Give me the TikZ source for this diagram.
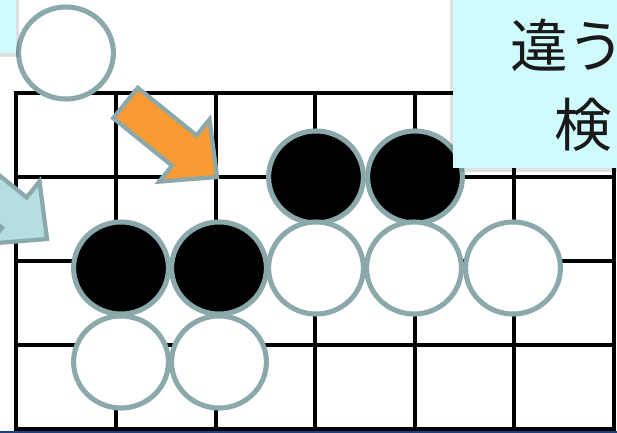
\documentclass[tikz,border=0pt]{standalone}
\usepackage{fontspec}
\newfontfamily\cjk{Noto Sans CJK JP}
\usetikzlibrary{shapes.geometric}
\definecolor{cedge}{HTML}{8BA8AA}
\definecolor{corange}{HTML}{F99A33}
\definecolor{caqua}{HTML}{B4DEE1}
\definecolor{cpanel}{HTML}{D0FBFD}
\definecolor{cnavy}{HTML}{1F3F7F}
\tikzset{
  every picture/.style={x=0.025cm, y=-0.025cm},
  gridline/.style={line width=2.2pt, black, line cap=rect},
  stone/.style={ellipse, draw=cedge, line width=3.6pt, fill=#1, minimum width=2.37cm, minimum height=2.3cm, inner sep=0pt},
  stone/.default=white,
  panel/.style={fill=cpanel, inner sep=0pt, anchor=north west},
  shade/.style={fill=black, opacity=0.12},
  hint/.style={font=\cjk\fontsize{41}{48}\selectfont, text=black!90, inner sep=0pt, anchor=base west},
  pics/bigarrow/.style={code={
    \filldraw[fill=#1, draw=cedge, line width=3pt, line join=miter]
      (-117.7,19.5) -- (-42,19.5) -- (-42,40) -- (0,0) -- (-42,-40) -- (-42,-19.5) -- (-117.7,-19.5) -- cycle;}},
}

\begin{document}
\begin{tikzpicture}
  \useasboundingbox (0,0) rectangle (617,433);
  \clip (0,0) rectangle (617,433);
  % board
  \foreach \gx in {16,116,216,315,415,514,614}
    \draw[gridline] (\gx,93) -- (\gx,429);
  \foreach \gy in {93,177,261,345,429}
    \draw[gridline] (16,\gy) -- (614,\gy);
  \draw[cnavy, line width=1.5pt] (0,432) -- (617,432);
  % stones
  \node[stone] (w0) at (66,53) {};
  \node[stone=black] (b1) at (316,177) {};
  \node[stone=black] (b2) at (415,177) {};
  \node[stone] (w1) at (316,268) {};
  \node[stone] (w2) at (414,268) {};
  \node[stone] (w3) at (513,268) {};
  \node[stone=black] (b3) at (121,268) {};
  \node[stone=black] (b4) at (219,268) {};
  \node[stone] (w4) at (121,362) {};
  \node[stone] (w5) at (219,362) {};
  % arrows
  \pic[rotate=-39] (oarrow) at (217,177) {bigarrow=corange};
  \pic[rotate=-39] (carrow) at (47,239) {bigarrow=caqua};
  % panels
  \fill[shade] (-5,-5) rectangle (19,57);
  \node[panel, minimum width=0.65cm, minimum height=1.45cm] (lpanel) at (-10,-5) {};
  \fill[shade] (450,-6) rectangle (622,172);
  \node[panel, minimum width=4.3cm, minimum height=4.35cm] (rpanel) at (453,-6) {};
  \node[hint] (t1) at (510,67) {違う};
  \node[hint] (t2) at (554,146) {検};
\end{tikzpicture}
\end{document}
